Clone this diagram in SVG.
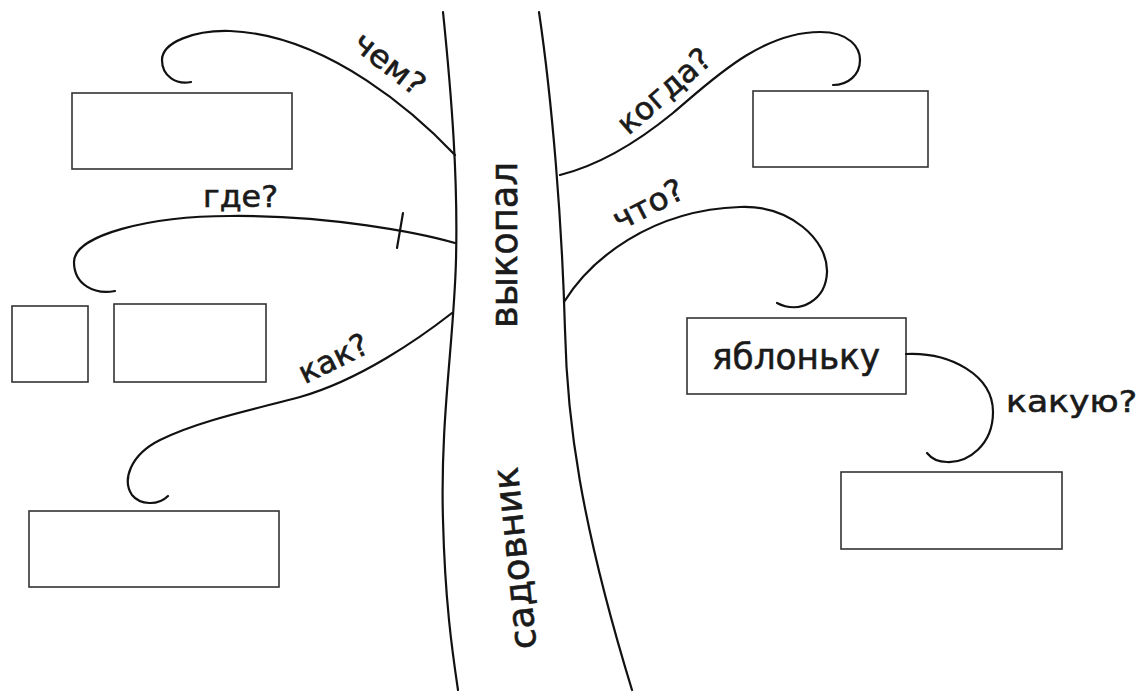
<svg xmlns="http://www.w3.org/2000/svg" width="1140" height="693" viewBox="0 0 1140 693">
<style>
  .line { fill: none; stroke: #111; stroke-width: 2.2; stroke-linecap: round; }
  .box { fill: #fff; stroke: #333; stroke-width: 1.6; }
  .word { font-family: "DejaVu Sans", "Noto Sans", sans-serif; fill: #1a1a1a; stroke: #1a1a1a; stroke-width: 0.6; }
  .lbl { font-family: "DejaVu Sans", "Noto Sans", sans-serif; fill: #1a1a1a; stroke: #1a1a1a; stroke-width: 0.6; font-size: 31px; text-anchor: middle; }
</style>
<rect width="1140" height="693" fill="#fff"/>

<g id="trunk">
  <path class="line" d="M443,12 C452,100 458,180 456,260 C454,340 440,420 443,520 C445,600 452,650 458,690"/>
  <path class="line" d="M539,12 C552,100 562,220 565,330 C567,420 580,520 632,690"/>
  <text class="word" font-size="36.5" text-anchor="middle" textLength="166" lengthAdjust="spacingAndGlyphs" transform="translate(517,245) rotate(-90)">выкопал</text>
  <text class="word" font-size="36.5" text-anchor="middle" textLength="183" lengthAdjust="spacingAndGlyphs" transform="translate(527,557) rotate(-96)">садовник</text>
</g>

<g id="box-chem"><rect class="box" x="72" y="93" width="220" height="76"/></g>
<g id="box-gde-1"><rect class="box" x="12" y="306" width="76" height="76"/></g>
<g id="box-gde-2"><rect class="box" x="114" y="304" width="152" height="78"/></g>
<g id="box-kak"><rect class="box" x="29" y="511" width="250" height="76"/></g>
<g id="box-kogda"><rect class="box" x="753" y="91" width="175" height="76"/></g>
<g id="box-yablonku">
  <rect class="box" x="687" y="318" width="219" height="76"/>
  <text class="word" font-size="36" text-anchor="middle" textLength="168" lengthAdjust="spacingAndGlyphs" x="796" y="369">яблоньку</text>
</g>
<g id="box-kakuyu"><rect class="box" x="841" y="472" width="221" height="77"/></g>

<g id="connectors">
  <path class="line" d="M455,155 C420,118 330,35 230,31 C195,30 162,42 162,60 C162,76 176,85 191,82"/>
  <path class="line" d="M455,243 C420,233 330,215 230,216 C150,216 74,235 74,262 C74,285 95,295 115,291"/>
  <path class="line" d="M403,213 L397,248"/>
  <path class="line" d="M452,313 C420,338 360,380 300,397 C260,408 200,420 160,440 C130,455 122,480 132,495 C140,505 158,506 168,496"/>
  <path class="line" d="M560,175 C600,165 640,140 673,113 C710,82 760,32 820,32 C850,32 860,48 860,60 C860,75 848,85 833,85"/>
  <path class="line" d="M564,302 C590,260 650,210 740,207 C790,205 828,240 827,272 C826,300 800,315 777,303"/>
  <path class="line" d="M906,354 C950,352 993,375 993,412 C993,445 968,463 947,462 C938,462 931,458 927,453"/>

  <text class="lbl" font-size="32" textLength="82" lengthAdjust="spacingAndGlyphs" transform="translate(383,72) rotate(38)">чем?</text>
  <text class="lbl" textLength="75" lengthAdjust="spacingAndGlyphs" x="240.5" y="207">где?</text>
  <text class="lbl" textLength="74" lengthAdjust="spacingAndGlyphs" transform="translate(338,368) rotate(-26)">как?</text>
  <text class="lbl" font-size="32" textLength="113" lengthAdjust="spacingAndGlyphs" transform="translate(671,99) rotate(-41)">когда?</text>
  <text class="lbl" font-size="32" textLength="76" lengthAdjust="spacingAndGlyphs" transform="translate(653,214) rotate(-27)">что?</text>
  <text class="lbl" font-size="35" textLength="131" lengthAdjust="spacingAndGlyphs" x="1071.5" y="412">какую?</text>
</g>
</svg>
